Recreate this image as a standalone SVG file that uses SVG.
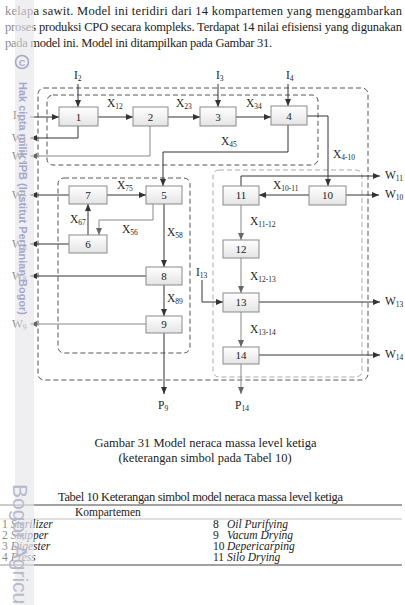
<svg xmlns="http://www.w3.org/2000/svg" width="405" height="605" viewBox="0 0 405 605">
<defs>
<linearGradient id="g" x1="0" y1="0" x2="0" y2="1"><stop offset="0" stop-color="#ffffff"/><stop offset="1" stop-color="#e4e4e4"/></linearGradient>
<marker id="a" markerWidth="7" markerHeight="6" refX="7" refY="3" orient="auto" markerUnits="userSpaceOnUse"><path d="M0,0 L7,3 L0,6 z" fill="#333"/></marker>
<marker id="b" markerWidth="7" markerHeight="6" refX="7" refY="3" orient="auto" markerUnits="userSpaceOnUse"><path d="M0,0 L7,3 L0,6 z" fill="#666"/></marker>
</defs>
<style>
text{font-family:"Liberation Serif","Times New Roman",serif;fill:#222}
.box{fill:url(#g);stroke:#8a8a8a;stroke-width:1}
.num{font-size:11px;text-anchor:middle}
.lb{font-size:11.5px}
.sub{font-size:7.5px}
.c{fill:none;stroke:#333;stroke-width:1;marker-end:url(#a)}
.cl{fill:none;stroke:#888;stroke-width:1;marker-end:url(#b)}
.d1{fill:none;stroke:#555;stroke-width:1;stroke-dasharray:5,3}
.d2{fill:none;stroke:#aaa;stroke-width:1;stroke-dasharray:5,3}
.p{font-size:12.5px}
.t{font-size:11.5px}
.i{font-style:italic}
</style>
<!-- paragraph -->
<text class="p" x="5" y="15" textLength="397" lengthAdjust="spacing">kelapa sawit. Model ini teridiri dari 14 kompartemen yang menggambarkan</text>
<text class="p" x="5" y="31" textLength="397" lengthAdjust="spacing">proses produksi CPO secara kompleks. Terdapat 14 nilai efisiensi yang digunakan</text>
<text class="p" x="5" y="47" textLength="267" lengthAdjust="spacing">pada model ini. Model ini ditampilkan pada Gambar 31.</text>

<!-- group frames -->
<g id="frames">
<rect class="d1" x="38" y="88" width="330" height="292" rx="6"/>
<rect class="d1" x="47" y="95" width="271" height="70" rx="6"/>
<rect class="d1" x="58" y="178" width="132" height="175" rx="6" stroke="#666"/>
<rect class="d2" x="213" y="170" width="149" height="207" rx="6"/>
</g>

<!-- connectors -->
<g id="connectors">
<path class="c" d="M78,84 V107"/>
<path class="c" d="M218,84 V107"/>
<path class="c" d="M288,84 V106"/>
<path class="c" d="M30,117 H59"/>
<path class="c" d="M98,117 H133"/>
<path class="c" d="M168,117 H200"/>
<path class="c" d="M236,117 H271"/>
<path class="c" d="M78,126 V138 H30"/>
<path class="cl" d="M150,126 V156 H30"/>
<path class="c" d="M288,125 V152 H163 V186"/>
<path class="c" d="M307,116 H328 V186"/>
<path class="c" d="M241,186 V176 H380"/>
<path class="c" d="M309,195 H259"/>
<path class="c" d="M346,195 H379"/>
<path class="cl" d="M241,205 V240"/>
<path class="cl" d="M241,258 V293"/>
<path class="c" d="M202,280 V302 H223"/>
<path class="c" d="M259,302 H380"/>
<path class="cl" d="M241,312 V347"/>
<path class="c" d="M259,355 H380"/>
<path class="cl" d="M241,364 V394"/>
<path class="c" d="M107,195 H146"/>
<path class="c" d="M69,195 H30"/>
<path class="c" d="M88,235 V204"/>
<path class="cl" d="M153,204 V220 H99 V235"/>
<path class="c" d="M164,204 V267"/>
<path class="c" d="M69,244 H30"/>
<path class="c" d="M146,276 H30"/>
<path class="c" d="M164,285 V316"/>
<path class="cl" d="M146,324 H30"/>
<path class="c" d="M164,333 V394"/>
</g>

<!-- nodes -->
<g id="n1"><rect class="box" x="59" y="107" width="39" height="19"/><text class="num" x="78.5" y="121">1</text></g>
<g id="n2"><rect class="box" x="133" y="107" width="35" height="19"/><text class="num" x="150.5" y="121">2</text></g>
<g id="n3"><rect class="box" x="200" y="107" width="36" height="19"/><text class="num" x="218" y="121">3</text></g>
<g id="n4"><rect class="box" x="271" y="106" width="36" height="19"/><text class="num" x="289" y="120">4</text></g>
<g id="n5"><rect class="box" x="146" y="186" width="36" height="18"/><text class="num" x="164" y="199">5</text></g>
<g id="n6"><rect class="box" x="69" y="235" width="38" height="18"/><text class="num" x="88" y="248">6</text></g>
<g id="n7"><rect class="box" x="69" y="186" width="38" height="18"/><text class="num" x="88" y="199">7</text></g>
<g id="n8"><rect class="box" x="146" y="267" width="36" height="18"/><text class="num" x="164" y="280">8</text></g>
<g id="n9"><rect class="box" x="146" y="316" width="36" height="17"/><text class="num" x="164" y="328">9</text></g>
<g id="n10"><rect class="box" x="309" y="186" width="37" height="19"/><text class="num" x="327.5" y="199">10</text></g>
<g id="n11"><rect class="box" x="223" y="186" width="36" height="19"/><text class="num" x="241" y="199">11</text></g>
<g id="n12"><rect class="box" x="223" y="240" width="36" height="18"/><text class="num" x="241" y="253">12</text></g>
<g id="n13"><rect class="box" x="223" y="293" width="36" height="19"/><text class="num" x="241" y="306">13</text></g>
<g id="n14"><rect class="box" x="223" y="347" width="36" height="17"/><text class="num" x="241" y="359">14</text></g>

<!-- labels -->
<g id="labels" class="lb">
<text x="74" y="79">I<tspan class="sub" dy="2">2</tspan></text>
<text x="216" y="79">I<tspan class="sub" dy="2">3</tspan></text>
<text x="286" y="79">I<tspan class="sub" dy="2">4</tspan></text>
<text x="13" y="119">I<tspan class="sub" dy="2">1</tspan></text>
<text x="12" y="142">W<tspan class="sub" dy="2">1</tspan></text>
<text x="12" y="160">W<tspan class="sub" dy="2">2</tspan></text>
<text x="12" y="199">W<tspan class="sub" dy="2">7</tspan></text>
<text x="12" y="248">W<tspan class="sub" dy="2">6</tspan></text>
<text x="12" y="280">W<tspan class="sub" dy="2">8</tspan></text>
<text x="12" y="328">W<tspan class="sub" dy="2">9</tspan></text>
<text x="107" y="107">X<tspan class="sub" dy="2">12</tspan></text>
<text x="176" y="107">X<tspan class="sub" dy="2">23</tspan></text>
<text x="246" y="107">X<tspan class="sub" dy="2">34</tspan></text>
<text x="221" y="145">X<tspan class="sub" dy="2">45</tspan></text>
<text x="333" y="158">X<tspan class="sub" dy="2">4-10</tspan></text>
<text x="117" y="189">X<tspan class="sub" dy="2">75</tspan></text>
<text x="70" y="223">X<tspan class="sub" dy="2">67</tspan></text>
<text x="122" y="233">X<tspan class="sub" dy="2">56</tspan></text>
<text x="167" y="236">X<tspan class="sub" dy="2">58</tspan></text>
<text x="167" y="302">X<tspan class="sub" dy="2">89</tspan></text>
<text x="273" y="189">X<tspan class="sub" dy="2">10-11</tspan></text>
<text x="250" y="225">X<tspan class="sub" dy="2">11-12</tspan></text>
<text x="250" y="280">X<tspan class="sub" dy="2">12-13</tspan></text>
<text x="250" y="333">X<tspan class="sub" dy="2">13-14</tspan></text>
<text x="196" y="276">I<tspan class="sub" dy="2">13</tspan></text>
<text x="385" y="179">W<tspan class="sub" dy="2">11</tspan></text>
<text x="385" y="198">W<tspan class="sub" dy="2">10</tspan></text>
<text x="385" y="305">W<tspan class="sub" dy="2">13</tspan></text>
<text x="385" y="358">W<tspan class="sub" dy="2">14</tspan></text>
<text x="158" y="409">P<tspan class="sub" dy="2">9</tspan></text>
<text x="235" y="409">P<tspan class="sub" dy="2">14</tspan></text>
</g>

<!-- caption -->
<text class="p" x="205.5" y="447" text-anchor="middle">Gambar 31 Model neraca massa level ketiga</text>
<text class="p" x="205" y="462" text-anchor="middle">(keterangan simbol pada Tabel 10)</text>

<!-- table -->
<text class="p" x="58" y="501" textLength="285" lengthAdjust="spacing">Tabel 10 Keterangan simbol model neraca massa level ketiga</text>
<line x1="0" y1="505" x2="402" y2="505" stroke="#444" stroke-width="1"/>
<text class="t" x="75" y="516">Kompartemen</text>
<line x1="0" y1="519" x2="402" y2="519" stroke="#999" stroke-width="0.6"/>
<text class="t" x="2" y="528">1 <tspan class="i">Sterilizer</tspan></text>
<text class="t" x="2" y="539">2 <tspan class="i">Stripper</tspan></text>
<text class="t" x="2" y="550">3 <tspan class="i">Digester</tspan></text>
<text class="t" x="2" y="561">4 <tspan class="i">Press</tspan></text>
<text class="t" x="213" y="528">8</text><text class="t i" x="227" y="528">Oil Purifying</text>
<text class="t" x="213" y="539">9</text><text class="t i" x="227" y="539">Vacum Drying</text>
<text class="t" x="213" y="550">10</text><text class="t i" x="227" y="550">Depericarping</text>
<text class="t" x="213" y="561">11</text><text class="t i" x="227" y="561">Silo Drying</text>
<line x1="0" y1="565" x2="402" y2="565" stroke="#444" stroke-width="1"/>

<!-- watermark -->
<g id="watermark">
<rect x="0" y="0" width="15" height="605" fill="#ffffff" opacity="0.45"/>
<rect x="15" y="0" width="19" height="605" fill="#e8e8ec" opacity="0.7"/>
<circle cx="22" cy="62" r="6.5" fill="none" stroke="#a8a8c4" stroke-width="1.6"/>
<text x="22" y="65.5" font-size="9" text-anchor="middle" style="font-family:'Liberation Sans',sans-serif;fill:#a8a8c4;font-weight:bold">C</text>
<text transform="translate(19,82) rotate(90)" textLength="233" lengthAdjust="spacingAndGlyphs" style="font-family:'Liberation Sans',sans-serif;font-size:11px;font-weight:bold;fill:#a6a6cc">Hak cipta milik IPB (Institut Pertanian Bogor)</text>
<text transform="translate(13,484) rotate(90)" style="font-family:'Liberation Sans',sans-serif;font-size:21px;fill:#b8b8cc">Bogor Agricu</text>
</g>
</svg>
